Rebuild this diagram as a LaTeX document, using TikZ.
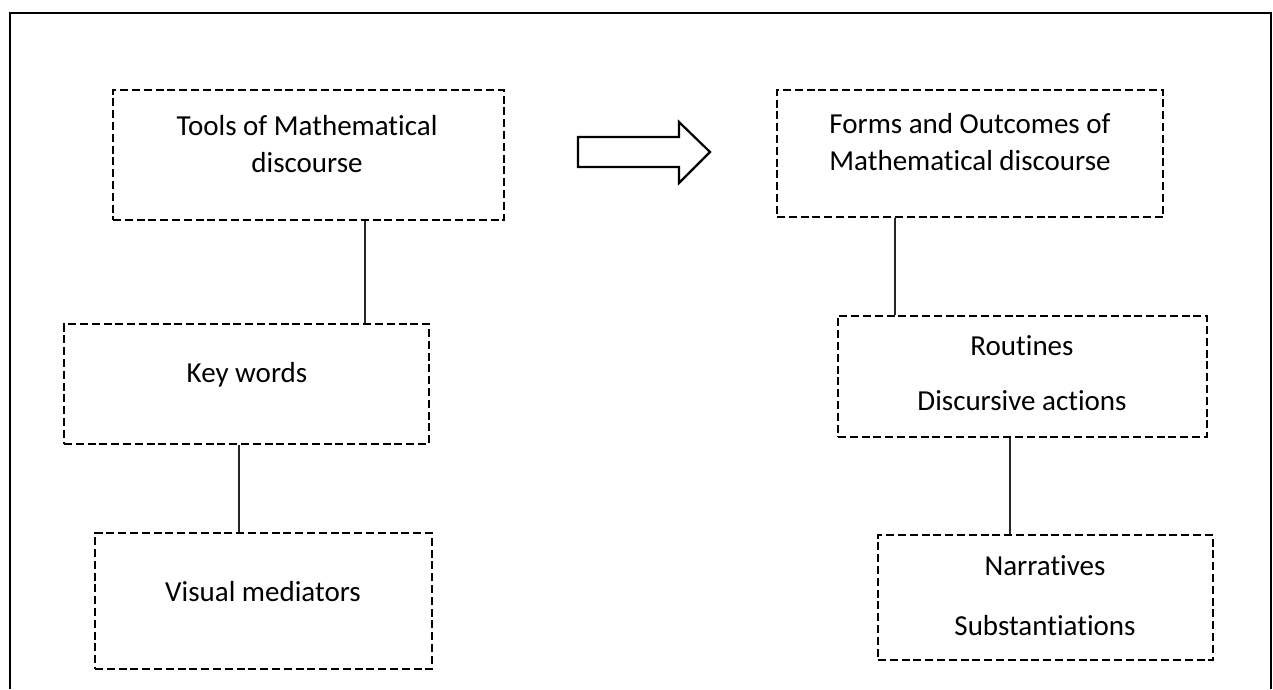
\documentclass[tikz,border=0pt]{standalone}
\usepackage{fontspec}
\setmainfont{Carlito}[Ligatures=NoCommon]
\begin{document}
\begin{tikzpicture}[x=1pt,y=-1pt,
  dbox/.style={draw, line width=2.6pt, dash pattern=on 8pt off 3.8pt, inner sep=0pt, rectangle},
  lbl/.style={anchor=base, inner sep=0pt, font=\fontsize{29}{35}\selectfont},
  conn/.style={draw=black!85, line width=1.3pt},
  frame/.style={line width=2.9pt}]
\useasboundingbox (0,0) rectangle (1273,689);
% outer frame (open at bottom)
\draw[frame] (10,689) -- (10,13) -- (1271,13) -- (1271,689);
% boxes
\node[dbox, minimum width=391pt, minimum height=130pt] (b1) at (308.5,155) {};
\node[dbox, minimum width=365pt, minimum height=120pt] (b2) at (246.5,384) {};
\node[dbox, minimum width=337pt, minimum height=136pt] (b3) at (263.5,601) {};
\node[dbox, minimum width=386pt, minimum height=127pt] (b4) at (970,153.5) {};
\node[dbox, minimum width=369pt, minimum height=121pt] (b5) at (1022.5,376.5) {};
\node[dbox, minimum width=335pt, minimum height=125pt] (b6) at (1045.5,597.5) {};
% texts
\node[lbl] (t1a) at (307,135) {Tools of Mathematical};
\node[lbl] (t1b) at (307,172) {discourse};
\node[lbl] (t2) at (247,382) {Key words};
\node[lbl] (t3) at (263,601) {Visual mediators};
\node[lbl] (t4a) at (970,133) {Forms and Outcomes of};
\node[lbl] (t4b) at (970,170) {Mathematical discourse};
\node[lbl] (t5a) at (1022,355) {Routines};
\node[lbl] (t5b) at (1022,410) {Discursive actions};
\node[lbl] (t6a) at (1045,575) {Narratives};
\node[lbl] (t6b) at (1045,635) {Substantiations};
% connectors
\coordinate (c1) at (365,0);
\coordinate (c2) at (239,0);
\coordinate (c3) at (895,0);
\coordinate (c4) at (1010,0);
\draw[conn] (b1.south -| c1) -- (b2.north -| c1);
\draw[conn] (b2.south -| c2) -- (b3.north -| c2);
\draw[conn] (b4.south -| c3) -- (b5.north -| c3);
\draw[conn] (b5.south -| c4) -- (b6.north -| c4);
% block arrow
\draw[line width=2.2pt, line join=miter] (578,137) -- (679,137) -- (679,122) -- (710,152) -- (679,183) -- (679,167) -- (578,167) -- cycle;
\end{tikzpicture}
\end{document}
